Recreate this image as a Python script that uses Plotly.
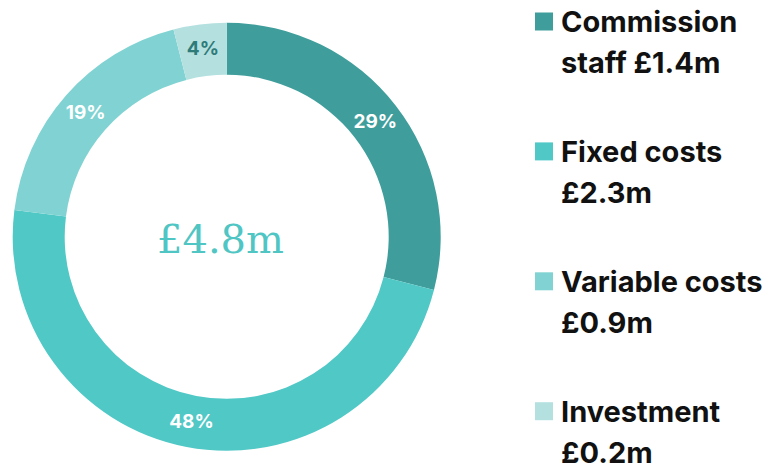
import plotly.graph_objects as go

categories = ["Commission staff", "Fixed costs", "Variable costs", "Investment"]
legend_line1 = ["Commission", "Fixed costs", "Variable costs", "Investment"]
legend_line2 = ["staff £1.4m", "£2.3m", "£0.9m", "£0.2m"]
percent_values = [29, 48, 19, 4]
center_label = "£4.8m"

colors = ["#3f9e9b", "#50c8c6", "#80d3d2", "#b4e1e0"]
text_colors = ["#ffffff", "#ffffff", "#ffffff", "#2e7b79"]

W, H = 775, 463
OFF = 8  # page body margin


def px(x):
    return (x - OFF) / W


def py(y):
    return 1 - (y - OFF) / H


fig = go.Figure()
fig.add_trace(go.Pie(
    labels=categories,
    values=percent_values,
    text=[f"{v}%" for v in percent_values],
    textinfo="text",
    textposition="inside",
    insidetextorientation="horizontal",
    hole=0.757,
    sort=False,
    direction="clockwise",
    rotation=0,
    marker=dict(colors=colors, line=dict(width=0)),
    textfont=dict(family="Inter", size=19, color=text_colors, weight="bold"),
    domain=dict(x=[px(12.7), px(440.7)], y=[py(451.3), py(22.3)]),
    showlegend=False,
    hoverinfo="label+percent",
))

fig.add_annotation(
    x=px(220), y=py(239), xref="paper", yref="paper",
    text=center_label, showarrow=False,
    font=dict(family="DejaVu Serif", size=40, color="#4fc6c3"),
    xanchor="center", yanchor="middle",
)

# legend
base = 21.5
step = 129.9
gap = 41
for i, c in enumerate(colors):
    cy = base + i * step
    fig.add_shape(type="rect", xref="paper", yref="paper",
                  x0=px(535), x1=px(553),
                  y0=py(cy - 9), y1=py(cy + 9),
                  fillcolor=c, line=dict(width=0))
    for j, txt in enumerate([legend_line1[i], legend_line2[i]]):
        fig.add_annotation(
            x=px(559), y=py(cy + j * gap), xref="paper", yref="paper",
            text=f"<b>{txt}</b>", showarrow=False, align="left",
            xanchor="left", yanchor="middle",
            font=dict(family="Inter", size=29, color="#111111"),
        )

fig.update_layout(
    width=W, height=H,
    margin=dict(l=0, r=0, t=0, b=0),
    paper_bgcolor="white", plot_bgcolor="white",
)

fig.write_html("out.html")
